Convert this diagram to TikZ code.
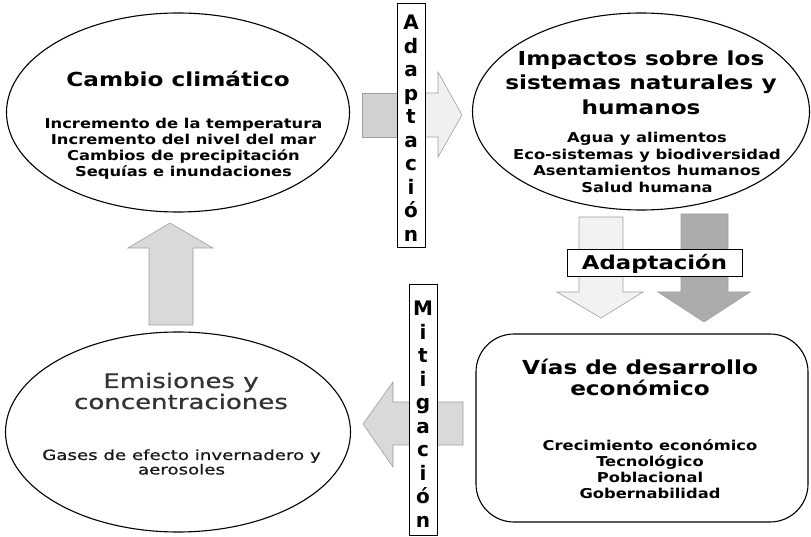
\documentclass[tikz,border=0pt]{standalone}
\usepackage{fontspec}
\setmainfont{DejaVu Sans}[FakeStretch=1.2]
\newfontfamily\widefont{DejaVu Sans}[FakeStretch=1.3]
\newfontfamily\widesemi{DejaVu Sans}[FakeStretch=1.3,FakeBold=0.7]
\newfontfamily\plainfont{DejaVu Sans}
\usetikzlibrary{shapes.geometric}
\begin{document}
\begin{tikzpicture}[x=1pt,y=-1pt,
  ell/.style={draw=black, line width=1.1pt, ellipse, inner sep=0pt},
  ttl/.style={font=\bfseries\fontsize{19.3}{24.5}\selectfont, align=center, inner sep=0pt},
  bod/.style={font=\bfseries\fontsize{13.6}{16}\selectfont, align=center, inner sep=0pt},
  blk/.style={draw=gray!75, line width=0.6pt, line join=miter},
  vbox/.style={draw=black, line width=1pt, fill=white, inner sep=0pt, minimum width=28pt, align=center},
  lbl/.style={inner sep=0pt, align=center, font=\plainfont\bfseries\fontsize{20}{23.5}\selectfont}
]
\useasboundingbox (0,0) rectangle (811,537);
\fill[white] (0,0) rectangle (811,537);

% ---- ellipses and box
\node[ell, minimum width=343pt, minimum height=199pt] (cc) at (178,112.5) {};
\node[ell, minimum width=337pt, minimum height=197pt] (imp) at (641,111.5) {};
\node[ell, minimum width=345pt, minimum height=200pt] (emi) at (178,432) {};
\node[draw=black, line width=1.1pt, rounded corners=38pt, minimum width=332pt, minimum height=188pt, inner sep=0pt] (vias) at (642,428) {};

% ---- texts
\node[ttl] (cct) at (178,79) {Cambio climático};
\node[bod] (ccb) at (183.5,149) {Incremento de la temperatura\\Incremento del nivel del mar\\Cambios de precipitación\\Sequías e inundaciones};

\node[ttl] (impt) at (641,82.5) {Impactos sobre los\\sistemas naturales y\\humanos};
\node[bod, font=\bfseries\fontsize{13.6}{16.5}\selectfont] (impb) at (647,162.5) {Agua y alimentos\\Eco-sistemas y biodiversidad\\Asentamientos humanos\\Salud humana};

\node[ttl, font=\widesemi\fontsize{20}{21}\selectfont, text=black!80] (emit) at (181,391) {Emisiones y\\concentraciones};
\node[bod, font=\widesemi\fontsize{14}{14.5}\selectfont, text=black!90] (emib) at (181.5,462) {Gases de efecto invernadero y\\aerosoles};

\node[ttl, font=\bfseries\fontsize{19.3}{21.5}\selectfont] (viat) at (640,377.5) {Vías de desarrollo\\económico};
\node[bod] (viab) at (650,469) {Crecimiento económico\\Tecnológico\\Poblacional\\Gobernabilidad};

% ---- up arrow
\path[blk, fill=gray!30] (149,325) -- (149,248) -- (128,248) -- (170,223) -- (213,248) -- (193,248) -- (193,325) -- cycle;

% ---- top right arrow
\path[blk, fill=gray!35] (362,93) -- (398,93) -- (398,137) -- (362,137) -- cycle;
\path[blk, fill=gray!12] (424,93) -- (438,93) -- (438,72) -- (462,115) -- (438,157) -- (438,137) -- (424,137) -- cycle;
\node[vbox, minimum height=244pt] (ad1) at (411,126) {};
\node[lbl] (ad1t) at (411,128) {A\\d\\a\\p\\t\\a\\c\\i\\ó\\n};

% ---- bottom left arrow
\path[blk, fill=gray!30] (463,402) -- (393,402) -- (393,382) -- (363,424) -- (393,467) -- (393,445) -- (463,445) -- cycle;
\node[vbox, minimum height=250pt] (mit) at (423,410) {};
\node[lbl] (mitt) at (423,414) {M\\i\\t\\i\\g\\a\\c\\i\\ó\\n};

% ---- down arrows
\path[blk, fill=gray!10] (579,217) -- (623,217) -- (623,292) -- (643,292) -- (601,318) -- (557,292) -- (579,292) -- cycle;
\path[blk, fill=gray!65] (681,214) -- (728,214) -- (728,292) -- (750,292) -- (704,322) -- (658,292) -- (681,292) -- cycle;
\node[draw=black, line width=1pt, fill=white, minimum width=175pt, minimum height=27pt, inner sep=0pt, font=\bfseries\fontsize{19}{20}\selectfont] (ad2) at (654.5,263.5) {Adaptación};

\end{tikzpicture}
\end{document}
